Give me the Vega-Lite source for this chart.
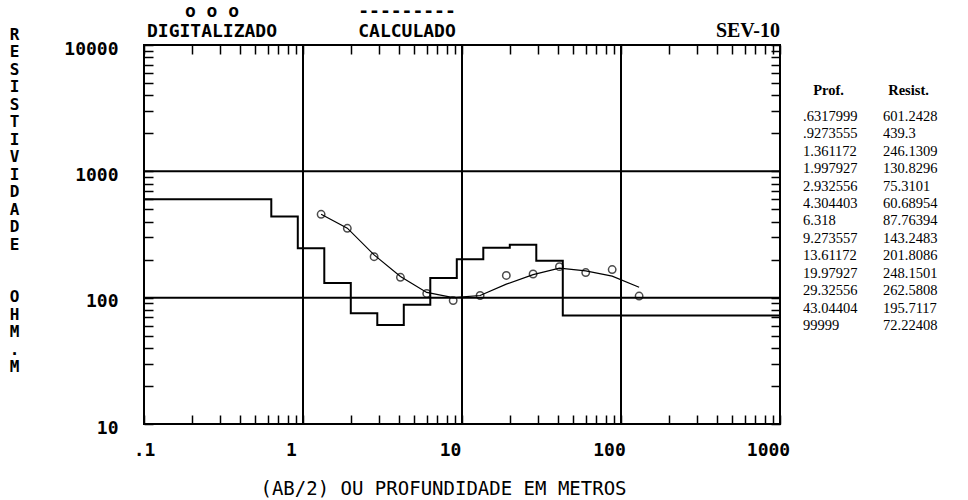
{
  "$schema": "https://vega.github.io/schema/vega-lite/v6.json",
  "background": "white",
  "padding": {"left": 7, "top": -6, "right": 0, "bottom": 0},
  "spacing": 5,
  "config": {
    "view": {"stroke": null},
    "font": "DejaVu Sans Mono",
    "axis": {
      "labelColor": "black",
      "titleColor": "black",
      "tickColor": "black",
      "labelFont": "DejaVu Sans Mono",
      "labelFontWeight": "bold",
      "labelFontSize": 18,
      "titleFont": "DejaVu Sans Mono",
      "labelOverlap": false,
      "labelFlush": false,
      "grid": false
    }
  },
  "datasets": {
    "camadas": [
      {"prof": ".6317999", "resist": "601.2428"},
      {"prof": ".9273555", "resist": "439.3"},
      {"prof": "1.361172", "resist": "246.1309"},
      {"prof": "1.997927", "resist": "130.8296"},
      {"prof": "2.932556", "resist": "75.3101"},
      {"prof": "4.304403", "resist": "60.68954"},
      {"prof": "6.318", "resist": "87.76394"},
      {"prof": "9.273557", "resist": "143.2483"},
      {"prof": "13.61172", "resist": "201.8086"},
      {"prof": "19.97927", "resist": "248.1501"},
      {"prof": "29.32556", "resist": "262.5808"},
      {"prof": "43.04404", "resist": "195.7117"},
      {"prof": "99999", "resist": "72.22408"}
    ],
    "modelo": [
      {"prof": 0.1, "resist": 601.2428},
      {"prof": 0.6317999, "resist": 601.2428},
      {"prof": 0.9273555, "resist": 439.3},
      {"prof": 1.361172, "resist": 246.1309},
      {"prof": 1.997927, "resist": 130.8296},
      {"prof": 2.932556, "resist": 75.3101},
      {"prof": 4.304403, "resist": 60.68954},
      {"prof": 6.318, "resist": 87.76394},
      {"prof": 9.273557, "resist": 143.2483},
      {"prof": 13.61172, "resist": 201.8086},
      {"prof": 19.97927, "resist": 248.1501},
      {"prof": 29.32556, "resist": 262.5808},
      {"prof": 43.04404, "resist": 195.7117},
      {"prof": 99999, "resist": 72.22408}
    ],
    "digitalizado": [
      {"ab2": 1.3, "rho": 457},
      {"ab2": 1.9, "rho": 354},
      {"ab2": 2.8, "rho": 211},
      {"ab2": 4.1, "rho": 145},
      {"ab2": 6, "rho": 108},
      {"ab2": 8.8, "rho": 95},
      {"ab2": 13, "rho": 104},
      {"ab2": 19, "rho": 150},
      {"ab2": 28, "rho": 154},
      {"ab2": 41, "rho": 176},
      {"ab2": 60, "rho": 158},
      {"ab2": 88, "rho": 167},
      {"ab2": 130, "rho": 103}
    ],
    "calculado": [
      {"ab2": 1.3, "rho": 457},
      {"ab2": 1.9, "rho": 355},
      {"ab2": 2.8, "rho": 218},
      {"ab2": 4.1, "rho": 147},
      {"ab2": 6, "rho": 110},
      {"ab2": 8.8, "rho": 100},
      {"ab2": 13, "rho": 104},
      {"ab2": 19, "rho": 128},
      {"ab2": 28, "rho": 152},
      {"ab2": 41, "rho": 171},
      {"ab2": 60, "rho": 163},
      {"ab2": 88, "rho": 148},
      {"ab2": 130, "rho": 121}
    ]
  },
  "hconcat": [
    {
      "width": 636,
      "height": 379,
      "view": {"stroke": "black", "strokeWidth": 2},
      "title": {
        "text": "SEV-10",
        "anchor": "end",
        "frame": "group",
        "font": "Liberation Serif",
        "fontSize": 20,
        "fontWeight": "bold",
        "color": "black",
        "offset": 6,
        "dy": 21
      },
      "layer": [
        {
          "data": {"values": [{"x": 1}, {"x": 10}, {"x": 100}]},
          "mark": {"type": "rule", "color": "black", "strokeWidth": 2},
          "encoding": {
            "x": {
              "field": "x",
              "type": "quantitative",
              "scale": {"type": "log", "domain": [0.1, 1000], "nice": false},
              "axis": {
                "orient": "top",
                "title": null,
                "labels": false,
                "domain": false,
                "tickSize": -9,
                "tickWidth": 1.5,
                "values": [0.1,0.2,0.3,0.4,0.5,0.6,0.7,0.8,0.9,1,2,3,4,5,6,7,8,9,10,20,30,40,50,60,70,80,90,100,200,300,400,500,600,700,800,900,1000]
              }
            }
          }
        },
        {
          "data": {"values": [{"y": 100}, {"y": 1000}]},
          "mark": {"type": "rule", "color": "black", "strokeWidth": 2},
          "encoding": {
            "y": {
              "field": "y",
              "type": "quantitative",
              "scale": {"type": "log", "domain": [10, 10000], "nice": false},
              "axis": {
                "orient": "right",
                "title": null,
                "labels": false,
                "domain": false,
                "tickSize": -9,
                "tickWidth": 1.5,
                "values": [10,20,30,40,50,60,70,80,90,100,200,300,400,500,600,700,800,900,1000,2000,3000,4000,5000,6000,7000,8000,9000,10000]
              }
            }
          }
        },
        {
          "data": {"name": "modelo"},
          "mark": {"type": "line", "interpolate": "step-before", "color": "black", "strokeWidth": 2, "clip": true},
          "encoding": {
            "x": {
              "field": "prof",
              "type": "quantitative",
              "axis": {
                "orient": "bottom",
                "domain": false,
                "tickSize": -9,
                "tickWidth": 1.5,
                "labelPadding": 26,
                "labelAlign": "center",
                "labelOffset": {"condition": {"test": "datum.value < 0.5", "value": 0}, "value": -12},
                "labelExpr": "datum.value == 0.1 ? '.1' : (indexof([1,10,100,1000], datum.value) >= 0 ? '' + datum.value : '')",
                "values": [0.1,0.2,0.3,0.4,0.5,0.6,0.7,0.8,0.9,1,2,3,4,5,6,7,8,9,10,20,30,40,50,60,70,80,90,100,200,300,400,500,600,700,800,900,1000],
                "title": "(AB/2) OU PROFUNDIDADE EM METROS",
                "titleFontSize": 19,
                "titleFontWeight": "normal",
                "titleBaseline": "middle",
                "titleAlign": "center",
                "titleX": 299,
                "titleY": 64
              }
            },
            "y": {
              "field": "resist",
              "type": "quantitative",
              "axis": {
                "orient": "left",
                "domain": false,
                "tickSize": -9,
                "tickWidth": 1.5,
                "labelPadding": 35,
                "labelOffset": 4,
                "labelExpr": "indexof([10,100,1000,10000], datum.value) >= 0 ? '' + datum.value : ''",
                "values": [10,20,30,40,50,60,70,80,90,100,200,300,400,500,600,700,800,900,1000,2000,3000,4000,5000,6000,7000,8000,9000,10000],
                "title": ["R","E","S","I","S","T","I","V","I","D","A","D","E","\u2800","\u2800","O","H","M",".","M"],
                "titleAngle": 0,
                "titleAlign": "center",
                "titleBaseline": "top",
                "titleFontSize": 16,
                "titleFontWeight": "bold",
                "titleLineHeight": 17.5,
                "titleX": -130,
                "titleY": -19
              }
            }
          }
        },
        {
          "data": {"name": "calculado"},
          "mark": {"type": "line", "strokeWidth": 1.2},
          "encoding": {
            "x": {"field": "ab2", "type": "quantitative", "axis": null},
            "y": {"field": "rho", "type": "quantitative", "axis": null},
            "color": {
              "datum": "CALCULADO",
              "scale": {"domain": ["DIGITALIZADO", "CALCULADO"], "range": ["black", "black"]},
              "legend": {
                "orient": "none",
                "legendX": 50,
                "legendY": -51,
                "direction": "horizontal",
                "title": null,
                "padding": 0,
                "symbolOpacity": 0,
                "symbolSize": 0,
                "symbolStrokeWidth": 0,
                "labelOffset": 0,
                "columnPadding": 80,
                "labelAlign": "center",
                "labelBaseline": "top",
                "labelFont": "DejaVu Sans Mono",
                "labelFontSize": 18,
                "labelFontWeight": "bold",
                "labelColor": "black",
                "labelLimit": 400,
                "labelExpr": "datum.label == 'DIGITALIZADO' ? ['o  o  o', 'DIGITALIZADO'] : ['---------', 'CALCULADO']"
              }
            }
          }
        },
        {
          "data": {"name": "digitalizado"},
          "mark": {"type": "point", "shape": "circle", "filled": false, "size": 55, "strokeWidth": 1.5},
          "encoding": {
            "x": {"field": "ab2", "type": "quantitative", "axis": null},
            "y": {"field": "rho", "type": "quantitative", "axis": null},
            "color": {"datum": "DIGITALIZADO"}
          }
        }
      ],
      "resolve": {"axis": {"x": "independent", "y": "independent"}}
    },
    {
      "width": 144,
      "height": 379,
      "data": {"name": "camadas"},
      "transform": [
        {"window": [{"op": "row_number", "as": "linha"}]},
        {"fold": ["prof", "resist"], "as": ["coluna", "valor"]}
      ],
      "mark": {"type": "text", "align": "left", "baseline": "middle", "dx": -25, "font": "Liberation Serif", "fontSize": 14.5, "color": "black"},
      "encoding": {
        "x": {
          "field": "coluna",
          "type": "nominal",
          "scale": {"type": "point", "padding": 0.4, "domain": ["prof", "resist"]},
          "axis": {
            "orient": "top",
            "title": null,
            "domain": false,
            "ticks": false,
            "labelAngle": 0,
            "labelPadding": -52,
            "labelFont": "Liberation Serif",
            "labelFontSize": 14.5,
            "labelFontWeight": "bold",
            "labelExpr": "datum.value == 'prof' ? 'Prof.' : 'Resist.'"
          }
        },
        "y": {
          "field": "linha",
          "type": "quantitative",
          "scale": {"domain": [-3.13, 18.63], "reverse": true, "nice": false, "zero": false},
          "axis": null
        },
        "text": {"field": "valor", "type": "nominal"}
      }
    }
  ]
}
